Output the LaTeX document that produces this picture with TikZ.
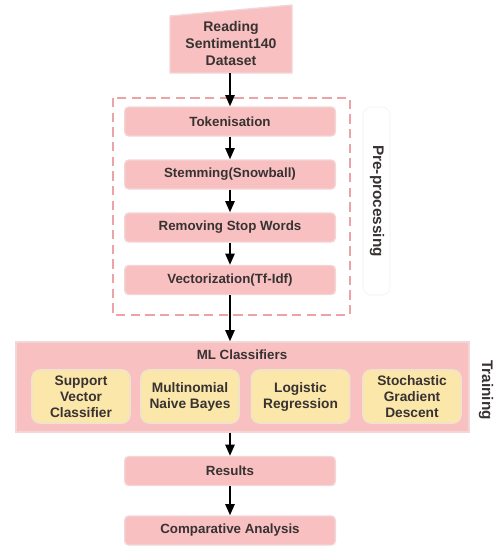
\documentclass[tikz,border=0pt]{standalone}
\usepackage{fontspec}
\setmainfont{Liberation Sans}
\usetikzlibrary{arrows.meta}
\definecolor{pinkfill}{HTML}{F8C0C1}
\definecolor{pinkline}{HTML}{F3D6D6}
\definecolor{dashpink}{HTML}{EBA3A6}
\definecolor{yellowfill}{HTML}{FBE7A9}
\definecolor{yellowline}{HTML}{F0E3C8}
\definecolor{txt}{HTML}{383232}
\begin{document}
\begin{tikzpicture}[x=0.75pt,y=-0.75pt,
  font=\bfseries\fontsize{10}{12}\selectfont, text=txt,
  stepbox/.style={rectangle, rounded corners=3pt, fill=pinkfill, draw=pinkline, line width=1pt,
    minimum width=158pt, minimum height=21.75pt, inner sep=0pt},
  clf/.style={rectangle, rounded corners=6pt, fill=yellowfill, draw=yellowline, line width=1.2pt,
    minimum width=73.5pt, minimum height=39.75pt, align=center, inner sep=0pt,
    font=\bfseries\fontsize{10.3}{12}\selectfont},
  sidelabel/.style={rotate=-90, font=\bfseries\fontsize{11.5}{13}\selectfont},
  arr/.style={-{Triangle[width=7pt,length=8.5pt]}, line width=1.5pt, black}]
\useasboundingbox (0,0) rectangle (504,547);

% source (manual input shape)
\draw[fill=pinkfill, draw=pinkline, line width=1pt] (170,16) -- (292,5) -- (292,73) -- (170,73) -- cycle;
\node[align=center, font=\bfseries\fontsize{10.5}{12.4}\selectfont] (src) at (231,43.5) {Reading\\Sentiment140\\Dataset};
\coordinate (srcbottom) at (230,73);

% pre-processing group
\draw[dashpink, dash pattern=on 7pt off 4pt, line width=1.2pt] (113,98) rectangle (350,315);
\draw[gray!7, line width=0.8pt, rounded corners=6pt] (363,107) rectangle (390,295);
\node[sidelabel] (prelab) at (377,201) {Pre-processing};

\node[stepbox] (tok) at (230,121.5) {Tokenisation};
\node[stepbox] (stem) at (230,174.5) {Stemming(Snowball)};
\node[stepbox] (stop) at (230,227.5) {Removing Stop Words};
\node[stepbox] (vec) at (230,280) {Vectorization(Tf-Idf)};

% classifiers
\node[rectangle, fill=pinkfill, draw=pinkline, line width=1pt, minimum width=339.75pt,
  minimum height=67.5pt, inner sep=0pt] (ml) at (242.5,387) {};
\node (mlt) at (242,355) {ML Classifiers};
\node[clf] (svc) at (81,396.5) {Support\\Vector\\Classifier};
\node[clf] (mnb) at (190,396.5) {Multinomial\\Naive Bayes};
\node[clf] (lr) at (300.5,396.5) {Logistic\\Regression};
\node[clf] (sgd) at (412,396.5) {Stochastic\\Gradient\\Descent};
\node[sidelabel] (trainlab) at (486,390) {Training};

% results
\node[stepbox] (res) at (230,471) {Results};
\node[stepbox] (comp) at (230,530.5) {Comparative Analysis};

% connectors
\draw[arr] (srcbottom) -- (tok.north);
\draw[arr] (tok.south) -- (stem.north);
\draw[arr] (stem.south) -- (stop.north);
\draw[arr] (stop.south) -- (vec.north);
\draw[arr] (vec.south) -- (vec.south |- ml.north);
\draw[arr] (res.north |- ml.south) -- (res.north);
\draw[arr] (res.south) -- (comp.north);
\end{tikzpicture}
\end{document}
